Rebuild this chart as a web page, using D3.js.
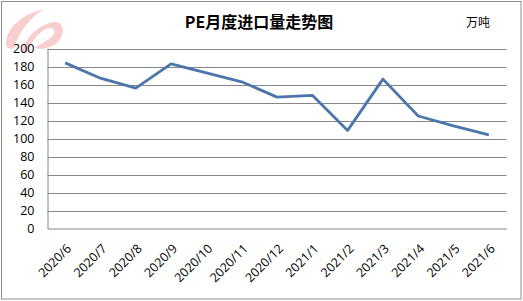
<!DOCTYPE html>
<html>
<head>
<meta charset="utf-8">
<script src="https://cdn.jsdelivr.net/npm/d3@7"></script>
<style>
  body { margin: 0; background: #fff; }
  .tick text { font-family: "Open Sans", "Noto Sans", sans-serif; font-size: 12.5px; fill: #000; }
</style>
</head>
<body>
<div id="chart"></div>
<script>
// Chart data
const months = ["2020/6", "2020/7", "2020/8", "2020/9", "2020/10", "2020/11", "2020/12",
  "2021/1", "2021/2", "2021/3", "2021/4", "2021/5", "2021/6"];
const imports = [184, 167, 156, 183, 173, 163, 146, 148, 109, 166, 125, 114, 104];
const yTicks = [0, 20, 40, 60, 80, 100, 120, 140, 160, 180, 200];

const W = 523, H = 301;
const MARGIN = {LEFT: 47.5, RIGHT: 16.5, TOP: 48.5, BOTTOM: 72.5};

const svg = d3.select("#chart").append("svg")
  .attr("width", W)
  .attr("height", H);

// outer frame
svg.append("rect")
  .attr("x", 1.5).attr("y", 1.5)
  .attr("width", W - 3.5).attr("height", H - 3.5)
  .attr("fill", "#fff")
  .attr("stroke", "#8c8c8c");

// faded logo in top-left corner
const logo = svg.append("g").attr("fill", "#f4b0b0").attr("opacity", 0.6);
logo.append("path")
  .attr("d", "M6,44 C6,28 22,14 44,9 C30,18 20,30 14,48 C10,50 6,48 6,44 Z");
logo.append("path")
  .attr("d", "M22,52 C26,36 40,24 54,22 C64,22 66,32 58,42 C52,48 42,50 34,48 C40,44 50,40 54,34 C56,28 50,26 44,30 C36,36 30,44 28,52 Z");

const x = d3.scaleBand()
  .domain(months)
  .range([MARGIN.LEFT, W - MARGIN.RIGHT]);

const y = d3.scaleLinear()
  .domain([0, 200])
  .range([H - MARGIN.BOTTOM, MARGIN.TOP]);

// gridlines
svg.append("g")
  .selectAll("line")
  .data(yTicks.filter(d => d > 0))
  .enter()
  .append("line")
  .attr("x1", MARGIN.LEFT)
  .attr("x2", W - MARGIN.RIGHT)
  .attr("y1", d => Math.round(y(d)) + 0.5)
  .attr("y2", d => Math.round(y(d)) + 0.5)
  .attr("stroke", "#868686");

// y axis
const yAxis = svg.append("g")
  .attr("transform", "translate(" + MARGIN.LEFT + ",0)")
  .call(d3.axisLeft(y).tickValues(yTicks).tickSize(0).tickPadding(13));
yAxis.select(".domain").attr("stroke", "#868686");

// x axis
const xAxis = svg.append("g")
  .attr("transform", "translate(0," + (H - MARGIN.BOTTOM) + ")")
  .call(d3.axisBottom(x).tickSize(0).tickPadding(0));
xAxis.select(".domain").attr("stroke", "#868686");
xAxis.selectAll(".tick text")
  .attr("text-anchor", "end")
  .attr("dy", 0)
  .attr("transform", "translate(7,21) rotate(-45)");

// line
const line = d3.line()
  .x((d, i) => x(months[i]) + x.bandwidth() / 2)
  .y(d => y(d));

svg.append("path")
  .datum(imports)
  .attr("d", line)
  .attr("fill", "none")
  .attr("stroke", "#4c76ab")
  .attr("stroke-width", 2.8)
  .attr("stroke-linejoin", "round");

// title and unit
svg.append("text")
  .attr("x", 259)
  .attr("y", 28)
  .attr("text-anchor", "middle")
  .attr("font-family", "'Noto Sans CJK SC', serif")
  .attr("font-weight", "bold")
  .attr("font-size", "16px")
  .text("PE月度进口量走势图");

svg.append("text")
  .attr("x", 478)
  .attr("y", 27)
  .attr("text-anchor", "middle")
  .attr("font-family", "'Noto Sans CJK SC', sans-serif")
  .attr("font-size", "12px")
  .text("万吨");
</script>
</body>
</html>
